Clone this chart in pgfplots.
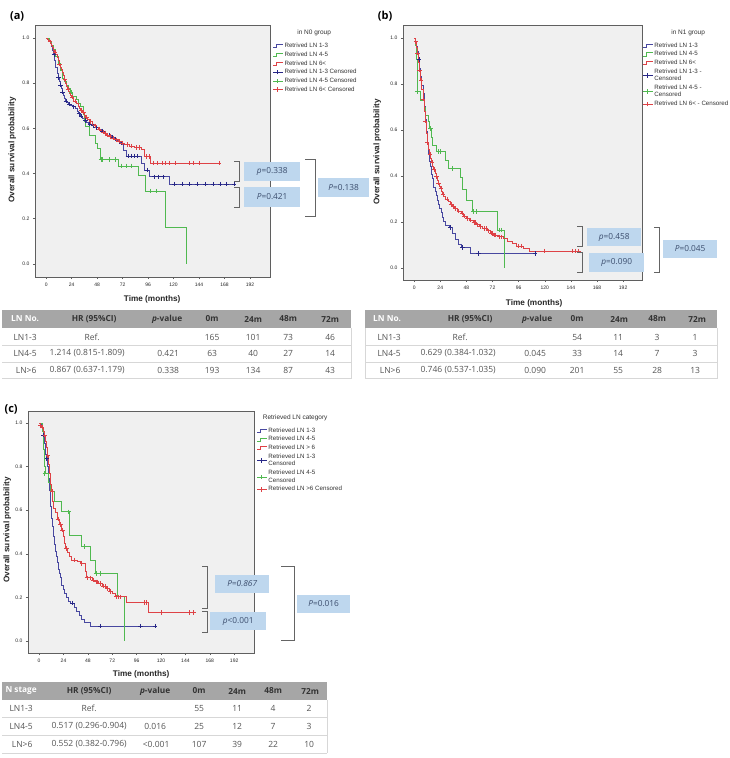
\documentclass[border=0pt]{standalone}
\usepackage{fontspec}
\setmainfont{Liberation Sans}
\newfontfamily\tabfont{Open Sans}
\usepackage{pgfplots}
\pgfplotsset{compat=1.18}

\definecolor{kmblue}{RGB}{72,72,160}
\definecolor{kmbluedark}{RGB}{40,40,135}
\definecolor{kmgreen}{RGB}{80,185,80}
\definecolor{kmred}{RGB}{222,66,70}
\definecolor{plotbg}{RGB}{240,240,240}
\definecolor{axgray}{RGB}{95,95,95}
\definecolor{hdrgray}{RGB}{166,166,166}
\definecolor{rowline}{RGB}{215,215,215}
\definecolor{celltext}{RGB}{85,85,85}
\definecolor{pbox}{RGB}{190,215,238}
\definecolor{ptext}{RGB}{60,78,110}
\definecolor{brk}{RGB}{100,100,100}

\pgfplotsset{
  km/.style={
    scale only axis, anchor=south west,
    axis background/.style={fill=plotbg},
    axis line style={draw=axgray, line width=0.9pt},
    tick align=outside, xtick pos=left, ytick pos=left,
    major tick length=2.2pt,
    every tick/.style={draw=axgray, line width=0.5pt},
    xtick={0,24,48,72,96,120,144,168,192},
    ytick={0,0.2,0.4,0.6,0.8,1},
    yticklabel style={/pgf/number format/.cd, fixed, fixed zerofill, precision=1},
    tick label style={font=\fontsize{5}{6}\selectfont, text=black!85},
    /pgf/number format/assume math mode=true,
    legend cell align=left,
    legend style={draw=none, fill=none, inner sep=0pt, row sep=1.1pt, anchor=north west,
      font=\fontsize{6.2}{6.6}\selectfont, nodes={inner sep=0.8pt, text=black!80}},
  },
  kmline/.style={const plot, line width=0.6pt, mark=none},
  kmcens/.style={only marks, mark=+, mark size=2.2pt, mark options={line width=0.6pt}},
  stepleg/.style={legend image code/.code={\draw[#1, line width=0.6pt] (0pt,-1.6pt)--(2.5pt,-1.6pt)--(2.5pt,1.6pt)--(10pt,1.6pt);}},
  censleg/.style={legend image code/.code={\draw[#1, line width=0.6pt] (0pt,0pt)--(10pt,0pt); \draw[#1, line width=0.6pt] (4pt,-2.2pt)--(4pt,2.2pt);}},
}

\tikzset{
  axlab/.style={font=\bfseries\fontsize{8.2}{9.5}\selectfont, text=black!85},
  panel/.style={font=\tabfont\bfseries\fontsize{11}{13}\selectfont},
  hdrw/.style={font=\tabfont\bfseries\fontsize{8.3}{9.5}\selectfont, text=white},
  hdr/.style={font=\tabfont\bfseries\fontsize{8.3}{9.5}\selectfont, text=black!80},
  cell/.style={font=\tabfont\fontsize{8.5}{9.5}\selectfont, text=celltext},
  pval/.style={fill=pbox, font=\tabfont\fontsize{8.3}{9.5}\selectfont, text=ptext},
  bracket/.style={draw=brk, line width=0.8pt},
  rl/.style={draw=rowline, line width=0.6pt},
}

\begin{document}
\begin{tikzpicture}
\begin{scope}[x=1pt,y=-1pt]
\path[use as bounding box, fill=white] (0,0) rectangle (719,758);
\end{scope}

% ---------------- panel (a): N0 group ----------------
\begin{axis}[km, at={(33pt,-277pt)}, width=235pt, height=252pt,
  xmin=-10.4, xmax=211, ymin=-0.058, ymax=1.058,
  legend style={at={(1.012,0.932)}}]
\addplot[kmline, kmblue, stepleg=kmblue] coordinates {
(0,1) (2,.994) (3,.988) (4,.976) (5,.964) (6,.945) (7,.927) (8,.900) (9,.870) (10,.845)
(11,.825) (12,.808) (13,.792) (14,.776) (15,.762) (16,.748) (17,.735) (18,.722) (19,.714)
(21,.708) (23,.702) (25,.696) (27,.688) (29,.678) (30,.665) (32,.655) (34,.645) (36,.635)
(38,.627) (40,.620) (43,.612) (46,.604) (49,.597) (52,.589) (55,.580) (58,.571) (61,.562)
(64,.553) (67,.544) (70,.535) (73,.505) (75,.478) (90,.446) (92,.416) (97,.386) (116,.353) (177,.353)};
\addlegendentry{Retrived LN 1-3}
\addplot[kmline, kmgreen, stepleg=kmgreen] coordinates {
(0,1) (3,.984) (5,.968) (7,.952) (9,.920) (11,.888) (13,.856) (15,.824) (17,.808) (19,.792)
(21,.776) (23,.760) (25,.744) (28,.728) (30,.712) (32,.696) (35,.664) (36,.632) (37,.608)
(41,.568) (46,.535) (48,.513) (51,.463) (68,.434) (87,.394) (93,.323) (112,.162) (132,0)};
\addlegendentry{Retrived LN 4-5}
\addplot[kmline, kmred, stepleg=kmred] coordinates {
(0,1) (1,.995) (2,.99) (3,.984) (4,.979) (5,.969) (6,.958) (7,.948) (8,.938) (9,.927) (10,.917)
(11,.901) (12,.886) (13,.870) (14,.860) (15,.850) (16,.834) (17,.818) (18,.800) (19,.785)
(20,.775) (21,.765) (22,.757) (23,.748) (24,.740) (25,.732) (26,.722) (28,.712) (30,.700)
(31,.690) (32,.682) (34,.672) (36,.660) (37,.650) (39,.640) (41,.630) (43,.620) (45,.612)
(47,.604) (49,.597) (51,.590) (53,.583) (55,.577) (57,.570) (59,.564) (62,.557) (65,.550)
(68,.543) (71,.536) (74,.528) (78,.522) (83,.516) (90,.508) (92,.475) (98,.446) (163,.446)};
\addlegendentry{Retrived LN 6<}
\addplot[kmcens, kmbluedark, censleg=kmbluedark] coordinates {
(7.5,.927) (11.5,.825) (13.5,.792) (15.5,.762) (18.5,.722) (22,.708) (26,.696) (31,.665)
(33,.655) (37,.635) (41,.620) (44,.612) (47,.604) (50,.597) (53,.589) (56,.580) (59,.571)
(62,.562) (65,.553) (71,.535) (77,.478) (80,.478) (83,.478) (86,.478) (95,.416) (102,.386)
(106,.386) (110,.386) (121,.353) (128,.353) (135,.353) (142,.353) (150,.353) (157,.353)
(164,.353) (170,.353) (177,.353)};
\addlegendentry{Retrived LN 1-3 Censored}
\addplot[kmcens, kmgreen, censleg=kmgreen] coordinates {
(23.5,.760) (51.5,.463) (53,.463) (59,.463) (65,.463) (71,.434) (75,.434) (80,.434) (98,.323) (104,.323)};
\addlegendentry{Retrived LN 4-5 Censored}
\addplot[kmcens, kmred, censleg=kmred] coordinates {
(3.5,.984) (8.5,.938) (12.5,.886) (17.5,.818) (20.5,.775) (24.5,.740) (27,.722) (33,.682)
(35,.672) (38,.650) (42,.630) (46,.612) (50,.597) (54,.583) (56,.577) (58,.570) (60,.564)
(63,.557) (66,.550) (69,.543) (72,.536) (76,.528) (80,.522) (85,.516) (88,.516) (94,.475)
(97,.475) (101,.446) (105,.446) (109,.446) (112,.446) (116,.446) (122,.446) (135,.446)
(139,.446) (144,.446) (163,.446)};
\addlegendentry{Retrived LN 6< Censored}
\end{axis}

% ---------------- panel (b): N1 group ----------------
\begin{axis}[km, at={(401pt,-280pt)}, width=239pt, height=255pt,
  xmin=-10.1, xmax=209.5, ymin=-0.052, ymax=1.0565,
  legend style={at={(1.003,0.935)}}]
\addplot[kmline, kmblue, stepleg=kmblue] coordinates {
(0,1) (1,.981) (2,.963) (3,.944) (4,.907) (5,.870) (6,.833) (7,.796) (8,.759) (9,.704)
(10,.648) (11,.593) (12,.537) (13,.500) (14,.463) (15,.444) (16,.407) (17,.389) (18,.352)
(19,.333) (20,.315) (21,.296) (22,.278) (23,.259) (25,.241) (26,.222) (27,.204) (29,.185)
(32,.176) (35,.150) (38,.125) (41,.105) (43,.090) (52,.064) (111,.064)};
\addlegendentry{Retrived LN 1-3}
\addplot[kmline, kmgreen, stepleg=kmgreen] coordinates {
(0,1) (1,.970) (2,.909) (2.5,.818) (3,.767) (6,.730) (9,.700) (10,.665) (13,.637) (14,.607)
(16,.570) (17,.535) (20,.506) (29,.470) (31,.433) (42,.395) (44,.342) (48,.296) (53,.245)
(76,.165) (83,0)};
\addlegendentry{Retrived LN 4-5}
\addplot[kmline, kmred, stepleg=kmred] coordinates {
(0,1) (1,.985) (2,.960) (3,.935) (4,.895) (5,.860) (6,.815) (7,.775) (8,.735) (9,.680)
(10,.640) (11,.585) (12,.545) (13,.515) (14,.495) (15,.475) (16,.458) (17,.442) (18,.428)
(19,.412) (20,.397) (21,.383) (22,.370) (23,.357) (24,.345) (25,.333) (26,.322) (27,.312)
(29,.300) (31,.288) (33,.278) (35,.268) (37,.258) (40,.248) (43,.238) (45,.226) (48,.216)
(51,.208) (54,.198) (57,.188) (60,.180) (63,.172) (67,.162) (70,.152) (73,.143) (77,.136)
(82,.128) (86,.118) (90,.108) (94,.096) (100,.086) (106,.074) (151,.074)};
\addlegendentry{Retrived LN 6<}
\addplot[kmcens, kmbluedark, censleg=kmbluedark] coordinates {
(4.5,.907) (33,.176) (44.5,.090) (59,.064) (111,.064)};
\addlegendentry{\shortstack[l]{Retrived LN 1-3 -\\Censored}}
\addplot[kmcens, kmgreen, censleg=kmgreen] coordinates {
(3,.767) (15,.607) (22,.506) (24,.506) (35,.433) (54.5,.245) (57,.245) (78,.165) (80,.165)};
\addlegendentry{\shortstack[l]{Retrived LN 4-5 -\\Censored}}
\addplot[kmcens, kmred, censleg=kmred] coordinates {
(1.5,.985) (3,.935) (5,.860) (6.5,.815) (8,.735) (10,.640) (12,.545) (14.5,.495) (16.5,.458)
(18.5,.428) (20.5,.397) (22.5,.370) (24.5,.345) (26.5,.322) (30,.300) (34,.278) (36,.268)
(38,.258) (41,.248) (44,.238) (46,.226) (49,.216) (52,.208) (55,.198) (56,.198) (58,.188)
(61,.180) (64,.172) (66,.172) (68,.162) (71,.152) (72,.152) (74,.143) (75,.143) (78,.136)
(80,.136) (96,.096) (98,.096) (120,.074) (145,.074) (148,.074) (151,.074)};
\addlegendentry{Retrived LN 6< - Censored}
\end{axis}

% ---------------- panel (c): all patients by retrieved LN category ----------------
\begin{axis}[km, at={(26pt,-653pt)}, width=226pt, height=242pt,
  xmin=-10.8, xmax=211.7, ymin=-0.055, ymax=1.055,
  legend style={at={(1.012,0.935)}}]
\addplot[kmline, kmblue, stepleg=kmblue] coordinates {
(0,1) (2,.982) (3,.964) (4,.945) (5,.909) (6,.855) (7,.836) (8,.800) (9,.745) (10,.691)
(11,.618) (12,.564) (13,.527) (14,.480) (15,.445) (16,.410) (17,.390) (18,.360) (19,.327)
(20,.309) (21,.291) (22,.255) (24,.236) (25,.218) (27,.200) (29,.182) (31,.175) (35,.156)
(37,.137) (40,.118) (42,.100) (44,.085) (50,.069) (114,.069)};
\addlegendentry{Retrieved LN 1-3}
\addplot[kmline, kmgreen, stepleg=kmgreen] coordinates {
(0,1) (3,.96) (4,.88) (5,.80) (6,.769) (9,.73) (11,.685) (15,.639) (22,.593) (30,.486)
(42,.433) (50,.372) (55,.310) (77,.203) (84,0)};
\addlegendentry{Retrieved LN 4-5}
\addplot[kmline, kmred, stepleg=kmred] coordinates {
(0,1) (1,.99) (2,.981) (4,.963) (5,.944) (6,.916) (7,.888) (8,.850) (9,.810) (10,.770)
(11,.720) (12,.685) (13,.640) (14,.610) (16,.590) (18,.560) (20,.535) (22,.510) (24,.480)
(25,.450) (26,.425) (28,.405) (30,.390) (32,.372) (38,.365) (41,.356) (45,.320) (46,.290)
(52,.280) (55,.272) (58,.264) (62,.252) (66,.240) (69,.228) (72,.220) (75,.203) (86,.176)
(107,.130) (153,.130)};
\addlegendentry{Retrieved LN > 6}
\addplot[kmcens, kmbluedark, censleg=kmbluedark] coordinates {
(4.5,.945) (7.5,.836) (33,.175) (60,.069) (100,.069) (114,.069)};
\addlegendentry{\shortstack[l]{Retrieved LN 1-3\\Censored}}
\addplot[kmcens, kmgreen, censleg=kmgreen] coordinates {
(5.5,.769) (29,.593) (44,.433) (56,.310) (60,.310)};
\addlegendentry{\shortstack[l]{Retrieved LN 4-5\\Censored}}
\addplot[kmcens, kmred, censleg=kmred] coordinates {
(1.5,.99) (3,.981) (5.5,.944) (8.5,.850) (12.5,.685) (18.5,.560) (21,.535) (23,.510)
(27,.425) (35,.372) (42,.356) (47,.290) (50,.290) (53,.280) (56,.272) (57,.272) (60,.264)
(63,.252) (65,.252) (67,.240) (70,.228) (76,.203) (78,.203) (80,.203) (104,.176) (106,.176)
(120,.130) (148,.130) (152,.130)};
\addlegendentry{Retrieved LN >6 Censored}
\end{axis}

% ---------------- labels, comparisons and tables ----------------
\begin{scope}[x=1pt,y=-1pt]
% panel letters
\node[panel] at (15,16) {(a)};
\node[panel] at (383,16) {(b)};
\node[panel] at (9,409) {(c)};

% axis titles
\node[axlab] at (150,299) {Time (months)};
\node[axlab, rotate=90] at (10,150) {Overall survival probability};
\node[axlab] at (532,303) {Time (months)};
\node[axlab, rotate=90] at (375,152) {Overall survival probability};
\node[axlab] at (139,674) {Time (months)};
\node[axlab, rotate=90] at (5,530) {Overall survival probability};

% legend titles
\node[font=\fontsize{6.5}{7.5}\selectfont, text=black!80] at (312,33) {in N0 group};
\node[font=\fontsize{6.5}{7.5}\selectfont, text=black!80] at (686,33) {in N1 group};
\node[font=\fontsize{6.5}{7.5}\selectfont, text=black!80] at (293,418) {Retrieved LN category};

% comparison brackets and p-values, panel (a)
\draw[bracket] (232,161)--(237,161)--(237,181)--(232,181);
\draw[bracket] (232,187)--(237,187)--(237,207)--(232,207);
\draw[bracket] (303,159.5)--(313,159.5)--(313,216)--(303,216);
\path[pval] (242,162) rectangle (298,181);
\node[pval, fill=none] at (270,171.5) {{\itshape p}=0.338};
\path[pval] (242,187) rectangle (298,207);
\node[pval, fill=none] at (270,197) {{\itshape P}=0.421};
\path[pval] (316,178) rectangle (367,197);
\node[pval, fill=none] at (341.5,187.5) {{\itshape P}=0.138};

% panel (b)
\draw[bracket] (575,226)--(580,226)--(580,246)--(575,246);
\draw[bracket] (575,252)--(580,252)--(580,272)--(575,272);
\draw[bracket] (652,227)--(657,227)--(657,272)--(652,272);
\path[pval] (585,228) rectangle (639,246);
\node[pval, fill=none] at (612,237) {{\itshape p}=0.458};
\path[pval] (587,252.5) rectangle (642,271.5);
\node[pval, fill=none] at (614.5,262) {{\itshape p}=0.090};
\path[pval] (661,240) rectangle (715,258);
\node[pval, fill=none] at (688,249) {{\itshape P}=0.045};

% panel (c)
\draw[bracket] (200,566)--(205.5,566)--(205.5,608)--(200,608);
\draw[bracket] (200,611)--(205.5,611)--(205.5,632)--(200,632);
\draw[bracket] (279,566)--(292,566)--(292,640)--(279,640);
\path[pval] (213,575) rectangle (267,593);
\node[pval, fill=none] at (240,584) {{\itshape P=0.867}};
\path[pval] (208,612) rectangle (264,630);
\node[pval, fill=none] at (236,621) {{\itshape p}<0.001};
\path[pval] (295,595) rectangle (348,613);
\node[pval, fill=none] at (321.5,604) {{\itshape P}=0.016};

% table (a)
\fill[hdrgray] (0,310) rectangle (349,328);
\draw[rl] (0,345.5)--(349,345.5) (0,362)--(349,362) (0,378.5)--(349,378.5) (349,328)--(349,378.5);
\node[hdrw] at (23,319) {LN No.};
\node[hdr] at (92,319) {HR (95\%CI)};
\node[hdr] at (165,319) {{\itshape p}-value};
\node[hdr] at (210,319) {0m};
\node[hdr] at (251,319) {24m};
\node[hdr] at (286,319) {48m};
\node[hdr] at (328,319) {72m};
\node[cell] at (23,337) {LN1-3};
\node[cell] at (90,337) {Ref.};
\node[cell] at (210,337) {165};
\node[cell] at (251,337) {101};
\node[cell] at (286,337) {73};
\node[cell] at (328,337) {46};
\node[cell] at (23,353.5) {LN4-5};
\node[cell] at (85,353.5) {1.214 (0.815-1.809)};
\node[cell] at (166,353.5) {0.421};
\node[cell] at (210,353.5) {63};
\node[cell] at (251,353.5) {40};
\node[cell] at (286,353.5) {27};
\node[cell] at (328,353.5) {14};
\node[cell] at (24,370.5) {LN>6};
\node[cell] at (85,370.5) {0.867 (0.637-1.179)};
\node[cell] at (166,370.5) {0.338};
\node[cell] at (210,370.5) {193};
\node[cell] at (251,370.5) {134};
\node[cell] at (286,370.5) {87};
\node[cell] at (328,370.5) {43};

% table (b)
\fill[hdrgray] (363,310) rectangle (715,328);
\draw[rl] (363,345.5)--(715,345.5) (363,362)--(715,362) (363,378.5)--(715,378.5) (363,328)--(363,378.5) (715,328)--(715,378.5);
\node[hdrw] at (385,319) {LN No.};
\node[hdr] at (468,319) {HR (95\%CI)};
\node[hdr] at (535,319) {{\itshape p}-value};
\node[hdr] at (575,319) {0m};
\node[hdr] at (617,319) {24m};
\node[hdr] at (655,319) {48m};
\node[hdr] at (695,319) {72m};
\node[cell] at (387,337) {LN1-3};
\node[cell] at (458,337) {Ref.};
\node[cell] at (575,337) {54};
\node[cell] at (616,337) {11};
\node[cell] at (655,337) {3};
\node[cell] at (693,337) {1};
\node[cell] at (387,353.5) {LN4-5};
\node[cell] at (456,353.5) {0.629 (0.384-1.032)};
\node[cell] at (533,353.5) {0.045};
\node[cell] at (575,353.5) {33};
\node[cell] at (616,353.5) {14};
\node[cell] at (655,353.5) {7};
\node[cell] at (693,353.5) {3};
\node[cell] at (388,370.5) {LN>6};
\node[cell] at (456,370.5) {0.746 (0.537-1.035)};
\node[cell] at (533,370.5) {0.090};
\node[cell] at (575,370.5) {201};
\node[cell] at (616,370.5) {55};
\node[cell] at (655,370.5) {28};
\node[cell] at (693,370.5) {13};

% table (c)
\fill[hdrgray] (0,682) rectangle (325,700);
\draw[rl] (0,717)--(325,717) (0,735)--(325,735) (0,753)--(325,753) (325,700)--(325,753);
\node[hdrw] at (19,691) {N stage};
\node[hdr] at (87,691) {HR (95\%CI)};
\node[hdr] at (153,691) {{\itshape p}-value};
\node[hdr] at (197,691) {0m};
\node[hdr] at (235,691) {24m};
\node[hdr] at (271,691) {48m};
\node[hdr] at (308,691) {72m};
\node[cell] at (19,708.5) {LN1-3};
\node[cell] at (87,708.5) {Ref.};
\node[cell] at (197,708.5) {55};
\node[cell] at (235,708.5) {11};
\node[cell] at (271,708.5) {4};
\node[cell] at (307,708.5) {2};
\node[cell] at (19,726) {LN4-5};
\node[cell] at (87,726) {0.517 (0.296-0.904)};
\node[cell] at (153,726) {0.016};
\node[cell] at (197,726) {25};
\node[cell] at (235,726) {12};
\node[cell] at (271,726) {7};
\node[cell] at (307,726) {3};
\node[cell] at (20,744) {LN>6};
\node[cell] at (87,744) {0.552 (0.382-0.796)};
\node[cell] at (154,744) {<0.001};
\node[cell] at (197,744) {107};
\node[cell] at (235,744) {39};
\node[cell] at (271,744) {22};
\node[cell] at (307,744) {10};
\end{scope}
\end{tikzpicture}
\end{document}
